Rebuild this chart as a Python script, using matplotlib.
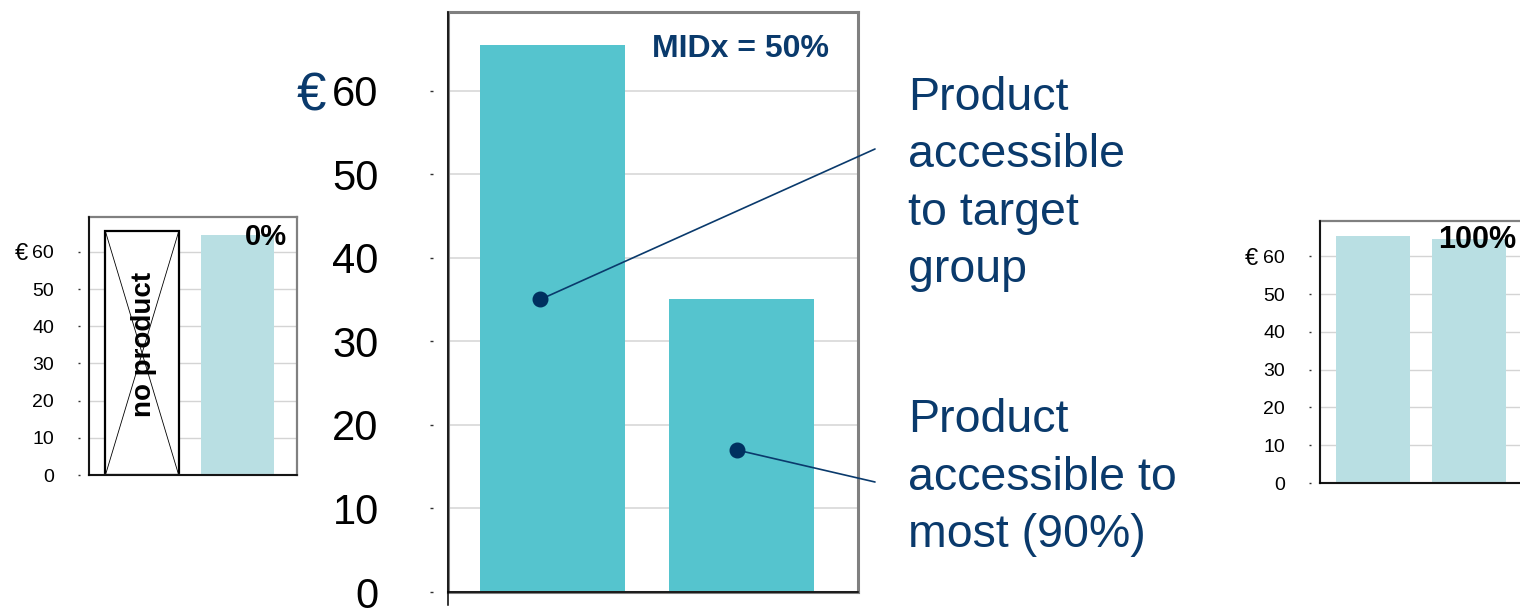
import matplotlib
matplotlib.use("Agg")
import matplotlib.pyplot as plt

plt.rcParams['font.family'] = ['Liberation Sans', 'DejaVu Sans']

# ---------------- data ----------------
yticks = [0, 10, 20, 30, 40, 50, 60]
ymax = 69.4

left_positions = [0, 1]
left_box_value = 65.5            # "no product" placeholder box
left_bar_value = 64.5
left_label = "0%"
left_box_text = "no product"

mid_positions = [0, 1]
mid_values = [65.5, 35.0]
mid_label = "MIDx = 50%"
marker_x = [-0.065, 0.975]
marker_y = [35.0, 17.0]
annotation_texts = ["Product\naccessible\nto target\ngroup",
                    "Product\naccessible to\nmost (90%)"]

right_positions = [0, 1]
right_values = [65.5, 64.5]
right_label = "100%"

currency = "€"

# ---------------- styling ----------------
W, H, DPI = 1520, 608, 100
NAVY = "#0a3a6c"
DOT = "#00305f"
TEAL = "#55c4ce"
LIGHT = "#b9dfe3"
GRID = "#d4d4d4"
FRAME = "#808080"
PT = 72.0 / DPI  # points per pixel

fig = plt.figure(figsize=(W / DPI, H / DPI), dpi=DPI)


def px_axes(x0, top, x1, bottom):
    return fig.add_axes([x0 / W, (H - bottom) / H, (x1 - x0) / W, (bottom - top) / H])


def style(ax, fs, outward, ticklen, pad, frame_lw, black_lw, grid_lw, ext=0.0):
    ax.set_ylim(0, ymax)
    ax.set_xlim(-0.555, 1.615)
    ax.set_yticks(yticks)
    ax.set_xticks([])
    ax.spines['left'].set_position(('outward', outward * PT))
    ax.spines['left'].set_visible(False)
    ax.tick_params(axis='y', direction='out', length=ticklen * PT, width=1.0,
                   color='#303030', pad=pad * PT, labelsize=fs, labelcolor='black')
    for s in ['top', 'right', 'bottom']:
        ax.spines[s].set_color(FRAME)
        ax.spines[s].set_linewidth(frame_lw)
    ax.grid(axis='y', color=GRID, lw=grid_lw)
    ax.set_axisbelow(True)
    ax.plot([0, 0], [0, 1], transform=ax.transAxes, color=FRAME, lw=frame_lw,
            clip_on=False, solid_capstyle='projecting', zorder=3)
    ax.plot([0, 0], [-ext, 1], transform=ax.transAxes, color='black', lw=black_lw,
            clip_on=False, zorder=4)
    ax.plot([0, 1], [0, 0], transform=ax.transAxes, color='black', lw=black_lw,
            clip_on=False, zorder=4)


# ---------------- left small chart ----------------
axl = px_axes(89, 217, 296.5, 475)
style(axl, 14, 9, 2, 24, 1.6, 1.2, 1.0)
bw = 0.766
axl.bar(left_positions[0], left_box_value, width=bw, facecolor='white',
        edgecolor='black', linewidth=1.6, zorder=2)
bx0, bx1 = left_positions[0] - bw / 2, left_positions[0] + bw / 2
axl.plot([bx0, bx1], [left_box_value, 0], color='black', lw=0.6, zorder=2)
axl.plot([bx1, bx0], [left_box_value, 0], color='black', lw=0.6, zorder=2)
axl.bar(left_positions[1], left_bar_value, width=bw, color=LIGHT, zorder=2)
axl.text(left_positions[0] + 0.015, left_box_value * 0.535, left_box_text,
         rotation=90, ha='center', va='center', fontsize=20, fontweight='bold',
         color='black', zorder=5)
axl.text(0.955, 0.891, left_label, transform=axl.transAxes, ha='right', va='baseline',
         fontsize=21, fontweight='bold', color='black', zorder=6)
axl.annotate(currency, xy=(0, 60), xycoords=('axes fraction', 'data'),
             xytext=(-61, 0), textcoords='offset pixels', ha='right',
             va='center_baseline', fontsize=17, color='black')

# ---------------- middle chart ----------------
axm = px_axes(447.7, 12, 857.5, 592)
style(axm, 30, 15, 3, 51, 2.2, 1.1, 1.1, ext=13 / 580)
axm.bar(mid_positions, mid_values, width=bw, color=TEAL, zorder=2)
axm.text(0.930, 0.922, mid_label, transform=axm.transAxes, ha='right', va='baseline',
         fontsize=23, fontweight='bold', color=NAVY, zorder=6)
axm.annotate(currency, xy=(0, 60), xycoords=('axes fraction', 'data'),
             xytext=(-122, 0), textcoords='offset pixels', ha='right',
             va='center_baseline', fontsize=38, color=NAVY)

line_ends = [(875, H - 149), (875, H - 482)]
for mx, my, end in zip(marker_x, marker_y, line_ends):
    axm.annotate('', xy=(mx, my), xycoords='data', xytext=end,
                 textcoords='figure pixels', annotation_clip=False,
                 arrowprops=dict(arrowstyle='-', color=NAVY, lw=1.2,
                                 shrinkA=0, shrinkB=0))
axm.plot(marker_x, marker_y, 'o', color=DOT, ms=10.5, zorder=6, clip_on=False)

# baseline of the LAST line of each block (matplotlib multiline 'baseline')
text_baselines = [H - 282, H - 547]
for txt, yb in zip(annotation_texts, text_baselines):
    fig.text(908 / W, yb / H, txt, ha='left', va='baseline', fontsize=33.5,
             color=NAVY, linespacing=1.39)

# ---------------- right small chart ----------------
axr = px_axes(1320, 221, 1528, 483)
style(axr, 14, 9, 2, 24, 1.6, 1.2, 1.0)
axr.bar(right_positions, right_values, width=bw, color=LIGHT, zorder=2)
axr.text(0.567, 0.897, right_label, transform=axr.transAxes, ha='left', va='baseline',
         fontsize=22, fontweight='bold', color='black', zorder=6)
axr.annotate(currency, xy=(0, 60), xycoords=('axes fraction', 'data'),
             xytext=(-62, 0), textcoords='offset pixels', ha='right',
             va='center_baseline', fontsize=17, color='black')

fig.savefig("out.png", dpi=DPI)
